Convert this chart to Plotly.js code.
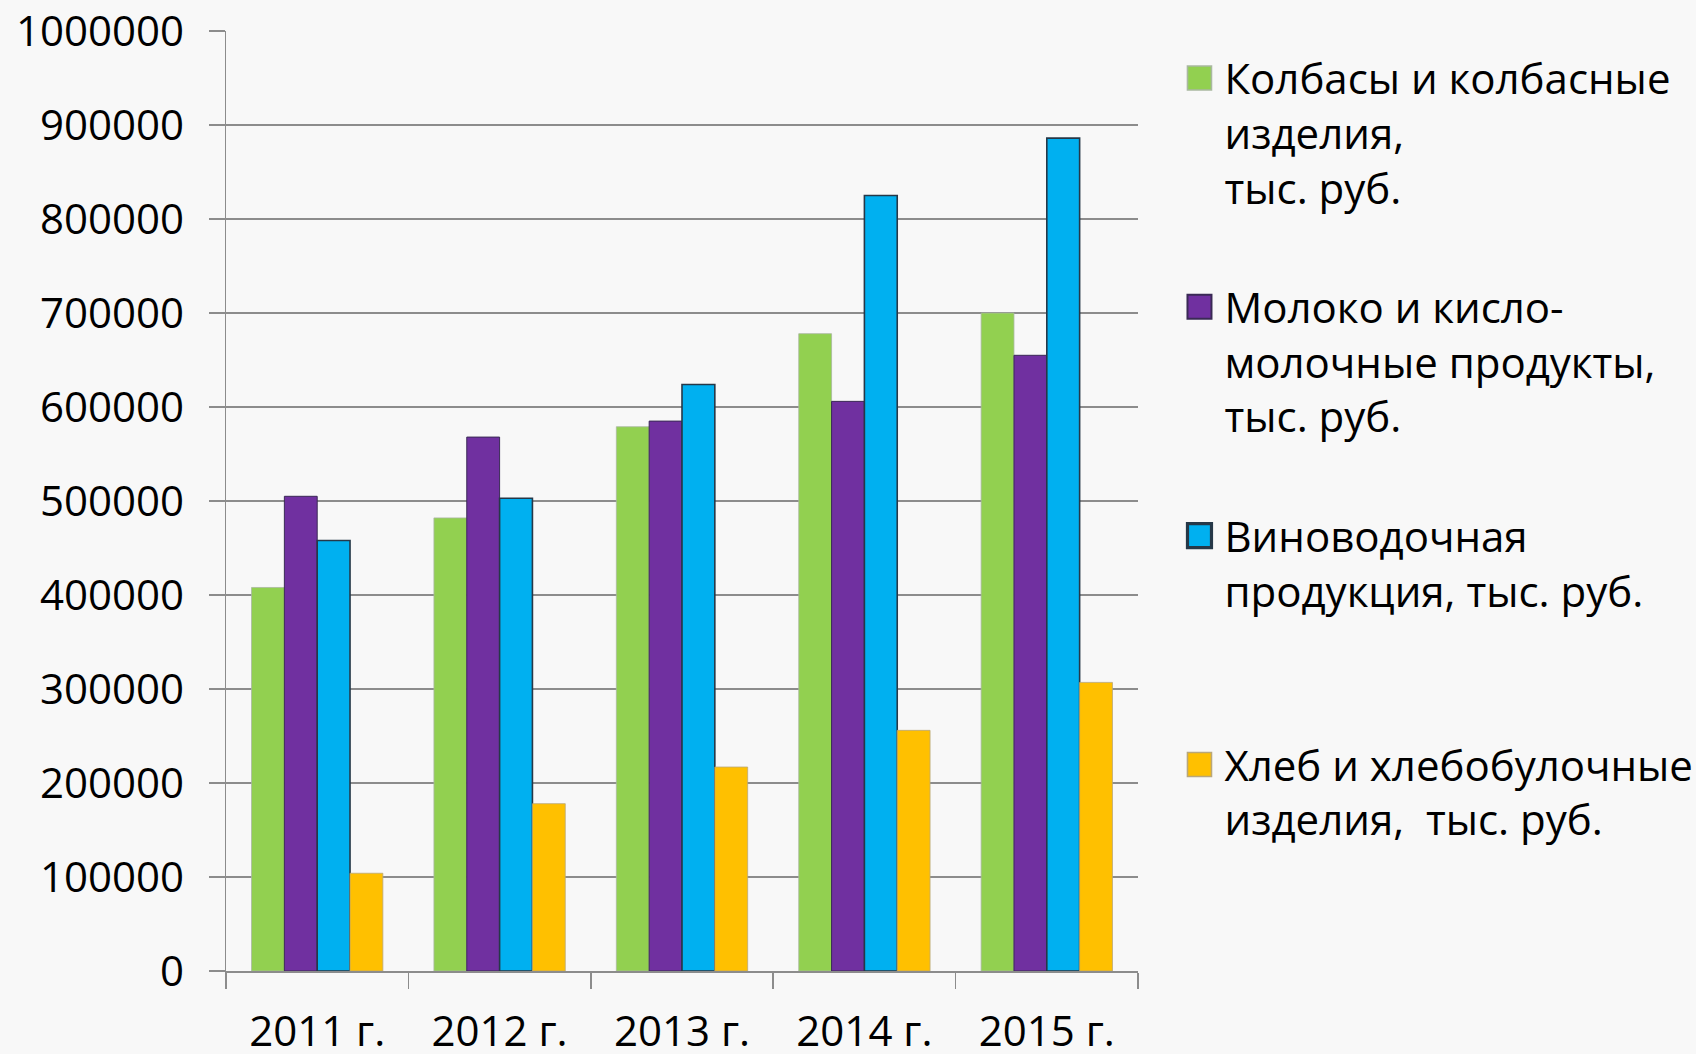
<!DOCTYPE html>
<html>
<head>
<meta charset="utf-8">
<script src="https://cdn.plot.ly/plotly-3.0.1.min.js"></script>
<style>
html,body{margin:0;padding:0;background:#f8f8f8;}
#chart{width:1696px;height:1054px;}
</style>
</head>
<body>
<div id="chart"></div>
<script>
const years = ["2011 г.", "2012 г.", "2013 г.", "2014 г.", "2015 г."];
const sausages = [408000, 482000, 579000, 678000, 700000];
const milk = [505000, 568000, 585000, 606000, 655000];
const wine = [458000, 503000, 624000, 825000, 886000];
const bread = [104000, 178000, 217000, 256000, 307000];
const seriesNames = [
  "Колбасы и колбасные<br>изделия,<br>тыс. руб.",
  "Молоко и кисло-<br>молочные продукты,<br>тыс. руб.",
  "Виноводочная<br>продукция, тыс. руб.<br>&nbsp;",
  "Хлеб и хлебобулочные<br>изделия,  тыс. руб.<br>&nbsp;"
];
const yTicks = [0, 100000, 200000, 300000, 400000, 500000, 600000, 700000, 800000, 900000, 1000000];

const colors = ["#92d050", "#7030a0", "#00b0f0", "#ffc000"];
const lineColors = ["#a9b8a0", "#3a2a55", "#263848", "#b9a77a"];
const lineWidths = [0.8, 1, 1.6, 0.8];
const values = [sausages, milk, wine, bread];

const traces = values.map((v, i) => ({
  type: "bar",
  x: years,
  y: v,
  name: seriesNames[i],
  legendgroup: "g" + i,
  marker: {color: colors[i], line: {color: lineColors[i], width: lineWidths[i]}},
  hoverinfo: "x+y"
}));

const font = "'Open Sans', 'Noto Sans', sans-serif";
const layout = {
  width: 1696,
  height: 1054,
  paper_bgcolor: "#f8f8f8",
  plot_bgcolor: "#f8f8f8",
  margin: {l: 226, r: 558, t: 31, b: 83},
  barmode: "group",
  bargap: 0.28,
  bargroupgap: 0,
  font: {family: font, size: 42, color: "#000"},
  xaxis: {
    type: "category",
    tickson: "boundaries",
    ticks: "outside",
    ticklen: 16,
    tickwidth: 1.5,
    tickcolor: "#8c8c8c",
    showline: true,
    linecolor: "#8c8c8c",
    linewidth: 1.5,
    showgrid: false,
    tickfont: {family: font, size: 42, color: "#000"},
    ticklabelstandoff: 23
  },
  yaxis: {
    range: [0, 1000000],
    tickvals: yTicks,
    ticktext: yTicks.map(String),
    ticks: "outside",
    ticklen: 16,
    tickwidth: 1.5,
    tickcolor: "#8c8c8c",
    showline: true,
    linecolor: "#8c8c8c",
    linewidth: 1.5,
    showgrid: true,
    gridcolor: "#8c8c8c",
    gridwidth: 1.5,
    zeroline: false,
    tickfont: {family: font, size: 42, color: "#000"},
    ticklabelstandoff: 16
  },
  legend: {
    xref: "container",
    yref: "container",
    x: 0.6925,
    y: 0.958,
    xanchor: "left",
    yanchor: "top",
    traceorder: "grouped",
    tracegroupgap: 62,
    valign: "top",
    bgcolor: "rgba(0,0,0,0)",
    font: {family: font, size: 42, color: "#000"},
    itemwidth: 40,
    maxheight: 1054
  },
  showlegend: true
};

Plotly.newPlot("chart", traces, layout, {displayModeBar: false, staticPlot: true}).then(() => {
  document.querySelectorAll(".legendpoints path").forEach(p => {
    const t = p.getAttribute("transform") || "";
    p.setAttribute("transform", t + " scale(2)");
  });
});
</script>
</body>
</html>
